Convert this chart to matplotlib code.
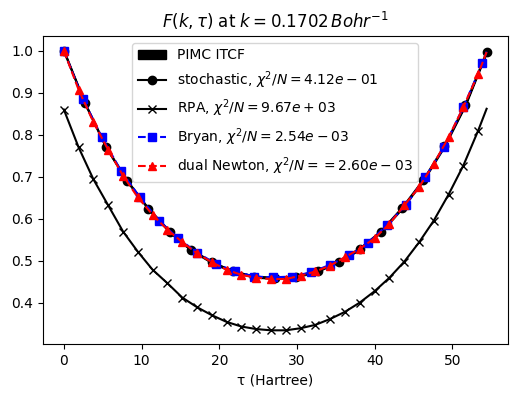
import matplotlib
matplotlib.use("Agg")
import matplotlib.pyplot as plt

# stochastic (also used for PIMC band)
tau_sto = [0.0, 2.72, 5.44, 8.16, 10.88, 13.6, 16.32, 19.04, 21.76, 24.48, 27.2,
           29.92, 32.64, 35.36, 38.08, 40.8, 43.52, 46.24, 48.96, 51.68, 54.4]
f_sto = [1.0, 0.875, 0.770, 0.690, 0.624, 0.570, 0.527, 0.497, 0.475, 0.463, 0.459,
         0.463, 0.477, 0.498, 0.529, 0.570, 0.626, 0.692, 0.773, 0.872, 0.997]
pimc_err = [0.002] * len(f_sto)

# RPA
tau_rpa = [0.0, 1.904, 3.808, 5.712, 7.616, 9.52, 11.424, 13.328, 15.232, 17.136,
           19.04, 20.944, 22.848, 24.752, 26.656, 28.56, 30.464, 32.368, 34.272,
           36.176, 38.08, 39.984, 41.888, 43.792, 45.696, 47.6, 49.504, 51.408,
           53.312, 54.4]
f_rpa = [0.860, 0.770, 0.694, 0.632, 0.570, 0.522, 0.479, 0.447, 0.413, 0.390,
         0.371, 0.355, 0.344, 0.338, 0.335, 0.335, 0.340, 0.348, 0.362,
         0.379, 0.401, 0.428, 0.460, 0.498, 0.544, 0.596, 0.658, 0.727,
         0.810, 0.862]

# Bryan
tau_bry = [0.0, 2.448, 4.896, 7.344, 9.792, 12.24, 14.688, 17.136, 19.584, 22.032,
           24.48, 26.928, 29.376, 31.824, 34.272, 36.72, 39.168, 41.616, 44.064,
           46.512, 48.96, 51.408, 53.856, 54.4]
f_bry = [1.0, 0.886, 0.794, 0.715, 0.651, 0.596, 0.554, 0.520, 0.493, 0.475,
         0.463, 0.461, 0.463, 0.473, 0.491, 0.513, 0.543, 0.586, 0.634,
         0.699, 0.772, 0.866, 0.970, 0.998]

# dual Newton
tau_dn = tau_rpa
f_dn = [1.0, 0.907, 0.830, 0.764, 0.703, 0.651, 0.610, 0.574, 0.545, 0.518,
        0.497, 0.479, 0.467, 0.460, 0.457, 0.457, 0.465, 0.475, 0.489,
        0.509, 0.529, 0.554, 0.588, 0.632, 0.675, 0.731, 0.794, 0.866,
        0.945, 0.997]

labels = ["PIMC ITCF",
          r"stochastic, $\chi^2/N = 4.12e-01$",
          r"RPA, $\chi^2/N = 9.67e+03$",
          r"Bryan, $\chi^2/N = 2.54e-03$",
          r"dual Newton, $\chi^2/N = = 2.60e-03$"]

fig = plt.figure(figsize=(5.16, 3.99), dpi=100)
ax = fig.add_axes([0.0828, 0.137, 0.9012, 0.773])

lo = [v - e for v, e in zip(f_sto, pimc_err)]
hi = [v + e for v, e in zip(f_sto, pimc_err)]
ax.fill_between(tau_sto, lo, hi, color="k", label=labels[0])
ax.plot(tau_sto, f_sto, "k-o", label=labels[1])
ax.plot(tau_rpa, f_rpa, "k-x", markevery=list(range(len(tau_rpa) - 1)), label=labels[2])
ax.plot(tau_bry, f_bry, "b--s", markevery=list(range(len(tau_bry) - 1)), label=labels[3])
ax.plot(tau_dn, f_dn, "r--^", markevery=list(range(len(tau_dn) - 1)), label=labels[4])

ax.set_xlabel("τ (Hartree)")
ax.set_title(r"$F(k,\tau)$ at $k = 0.1702\,Bohr^{-1}$")
ax.legend(loc="upper center")

fig.savefig("out.png", dpi=100)
